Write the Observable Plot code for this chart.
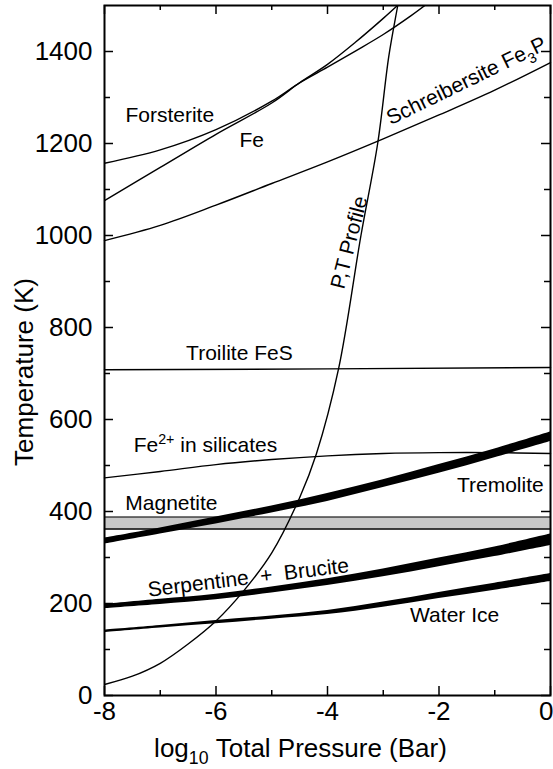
<!DOCTYPE html>
<html><head><meta charset="utf-8">
<script src="https://cdn.jsdelivr.net/npm/d3@7"></script>
<script src="https://cdn.jsdelivr.net/npm/@observablehq/plot@0.6"></script>
<style>body{margin:0;background:#fff;} svg{display:block}</style>
</head><body><div id="chart"></div>
<script>
// ---- data (log10 P in bar, T in K) ----
const gridP = [-8,-7,-6,-5,-4,-3,-2,-1,0];

const forsteriteP = [-8,-7,-6,-5,-4.5,-4,-3.5,-3,-2.5,-2.2];
const forsteriteT = [1157,1186,1230,1292,1332,1366,1401,1437,1478,1505];

const feP = [-8,-7,-6,-5,-4.5,-4,-3.5,-3,-2.7];
const feT = [1076,1148,1220,1288,1332,1372,1420,1472,1505];

const schreibersiteT = [989,1022,1066,1113,1160,1210,1262,1316,1376];
const troiliteP = [-8,-4,0];
const troiliteT = [708,710,713];
const fe2T = [473,487,502,513,521,526,528,528,526];

const tremoliteLo = [329,351,373,397,422,452,483,517,552];
const tremoliteHi = [342,364,388,412,439,469,502,536,573];

const magnetiteP = [-8,0];
const magnetiteLo = [362,362];
const magnetiteHi = [388,388];

const serpentineLo = [189,198,208,223,239,258,280,302,326];
const serpentineHi = [198,209,220,236,254,275,299,323,351];

const iceLo = [137,147,156,166,176,192,211,229,248];
const iceHi = [142,152,163,173,185,203,224,244,265];

const profileP = [-8,-7.5,-7,-6.5,-6,-5.5,-5,-4.5,-4.2,-3.8,-3.4,-3.1,-2.9,-2.74,-2.65];
const profileT = [24,42,70,112,162,228,310,430,525,711,1000,1200,1390,1500,1560];

const xTickLabels = [-8,-6,-4,-2];
const xLastLabel = [0];
const xMajor = [-8,-6,-4,-2,0];
const xMinor = [-7,-5,-3,-1];
const yMajor = [0,200,400,600,800,1000,1200,1400];
const yMinor = [100,300,500,700,900,1100,1300];

const labelText = ["Forsterite","Fe","Schreibersite Fe3P","P,T Profile","Troilite FeS","Fe2+ in silicates","Magnetite","Tremolite","Serpentine\u00a0\u00a0+\u00a0\u00a0Brucite","Water Ice"];
const labelP = [-6.83,-5.36,-1.51,-3.61,-5.58,-6.19,-6.80,-0.90,-5.42,-1.72];
const labelT = [1261,1207,1336,985,743,543,417,457,256,174];
const labelRotate = [0,0,-26,-75.5,0,0,0,0,-7,0];

// ---- tables ----
const pts = (P, T) => P.map((p, i) => ({p, T: T[i]}));
const band = (P, lo, hi) => P.map((p, i) => ({p, lo: lo[i], hi: hi[i]}));
const labels = labelText.map((t, i) => ({t, p: labelP[i], T: labelT[i], r: labelRotate[i]}));

const W = 553, H = 769, mL = 104, mR = 3, mT = 5, mB = 74;
const innerW = W - mL - mR, innerH = H - mT - mB;
const lw = 1.4;
const curve = "catmull-rom";

const chart = Plot.plot({
  width: W, height: H,
  marginLeft: mL, marginRight: mR, marginTop: mT, marginBottom: mB,
  style: {fontFamily: "'Liberation Sans', Arial, sans-serif", background: "#fff"},
  x: {domain: [-8, 0]},
  y: {domain: [0, 1500]},
  marks: [
    // magnetite band
    Plot.areaY(band(magnetiteP, magnetiteLo, magnetiteHi), {x: "p", y1: "lo", y2: "hi", fill: "#c8c8c8"}),
    Plot.line(pts(magnetiteP, magnetiteLo), {x: "p", y: "T", stroke: "black", strokeWidth: 1.3}),
    Plot.line(pts(magnetiteP, magnetiteHi), {x: "p", y: "T", stroke: "black", strokeWidth: 1}),
    // thick bands
    Plot.areaY(band(gridP, tremoliteLo, tremoliteHi), {x: "p", y1: "lo", y2: "hi", fill: "#000", curve}),
    Plot.areaY(band(gridP, serpentineLo, serpentineHi), {x: "p", y1: "lo", y2: "hi", fill: "#000", curve}),
    Plot.areaY(band(gridP, iceLo, iceHi), {x: "p", y1: "lo", y2: "hi", fill: "#000", curve}),
    // thin curves
    Plot.line(pts(forsteriteP, forsteriteT), {x: "p", y: "T", stroke: "black", strokeWidth: lw, curve, clip: true}),
    Plot.line(pts(feP, feT), {x: "p", y: "T", stroke: "black", strokeWidth: lw, curve, clip: true}),
    Plot.line(pts(gridP, schreibersiteT), {x: "p", y: "T", stroke: "black", strokeWidth: lw, curve}),
    Plot.line(pts(troiliteP, troiliteT), {x: "p", y: "T", stroke: "black", strokeWidth: lw}),
    Plot.line(pts(gridP, fe2T), {x: "p", y: "T", stroke: "black", strokeWidth: lw, curve}),
    Plot.line(pts(profileP, profileT), {x: "p", y: "T", stroke: "black", strokeWidth: lw, curve, clip: true}),
    // labels
    Plot.text(labels, {x: "p", y: "T", text: "t", rotate: "r", fontSize: 21, fill: "black"}),
    // frame and inward ticks
    Plot.frame({stroke: "black", strokeWidth: 2}),
    Plot.tickX(xMajor, {x: d => d, insetTop: innerH - 9, strokeWidth: 1.5}),
    Plot.tickX(xMinor, {x: d => d, insetTop: innerH - 5, strokeWidth: 1.5}),
    Plot.tickX(xMajor, {x: d => d, insetBottom: innerH - 9, strokeWidth: 1.5}),
    Plot.tickX(xMinor, {x: d => d, insetBottom: innerH - 5, strokeWidth: 1.5}),
    Plot.tickY(yMajor, {y: d => d, insetRight: innerW - 9, strokeWidth: 1.5}),
    Plot.tickY(yMinor, {y: d => d, insetRight: innerW - 6, strokeWidth: 1.5}),
    Plot.tickY(yMajor, {y: d => d, insetLeft: innerW - 9, strokeWidth: 1.5}),
    Plot.tickY(yMinor, {y: d => d, insetLeft: innerW - 6, strokeWidth: 1.5}),
    // axes (labels only)
    Plot.axisX({ticks: xTickLabels, tickSize: 0, tickPadding: 6, fontSize: 26, tickFormat: d => String(d), label: null}),
    Plot.axisX({ticks: xLastLabel, tickSize: 0, tickPadding: 6, fontSize: 26, tickFormat: d => String(d), label: null, textAnchor: "end", dx: 3}),
    Plot.axisY({ticks: yMajor, tickSize: 0, tickPadding: 12, fontSize: 26, tickFormat: d => String(d), label: null}),
    // axis titles
    Plot.text(["Temperature (K)"], {frameAnchor: "left", text: d => d, rotate: -90, fontSize: 26}),
    Plot.text(["log10 Total Pressure (Bar)"], {frameAnchor: "bottom", text: d => d, dx: -27, dy: 61, fontSize: 26})
  ]
});
document.getElementById("chart").appendChild(chart);

// rich text (sub/superscripts)
const NS = "http://www.w3.org/2000/svg";
function findText(match) {
  return [...chart.querySelectorAll("text")].filter(el => el.textContent === match);
}
function rich(match, parts, fs) {
  for (const el of findText(match)) {
    el.textContent = "";
    let cur = 0;
    for (const [s, kind] of parts) {
      const ts = document.createElementNS(NS, "tspan");
      const target = kind === "sub" ? 0.3 * fs : kind === "sup" ? -0.42 * fs : 0;
      if (target !== cur) ts.setAttribute("dy", (target - cur) + "px");
      cur = target;
      if (kind) ts.setAttribute("font-size", (0.68 * fs) + "px");
      ts.textContent = s;
      el.appendChild(ts);
    }
  }
}
rich("log10 Total Pressure (Bar)", [["log"], ["10", "sub"], ["\u00a0Total Pressure (Bar)"]], 26);
rich("Schreibersite Fe3P", [["Schreibersite Fe"], ["3", "sub"], ["P"]], 21);
rich("Fe2+ in silicates", [["Fe"], ["2+", "sup"], ["\u00a0in silicates"]], 21);

// place the rotated y title so its centre sits at (24, 372)
for (const el of findText("Temperature (K)")) {
  const svgBox = chart.getBoundingClientRect();
  const b = el.getBoundingClientRect();
  const cx = b.left + b.width / 2 - svgBox.left, cy = b.top + b.height / 2 - svgBox.top;
  const t = el.getAttribute("transform") || "";
  el.setAttribute("transform", `translate(${24 - cx},${372 - cy}) ${t}`);
}
</script>
</body></html>
